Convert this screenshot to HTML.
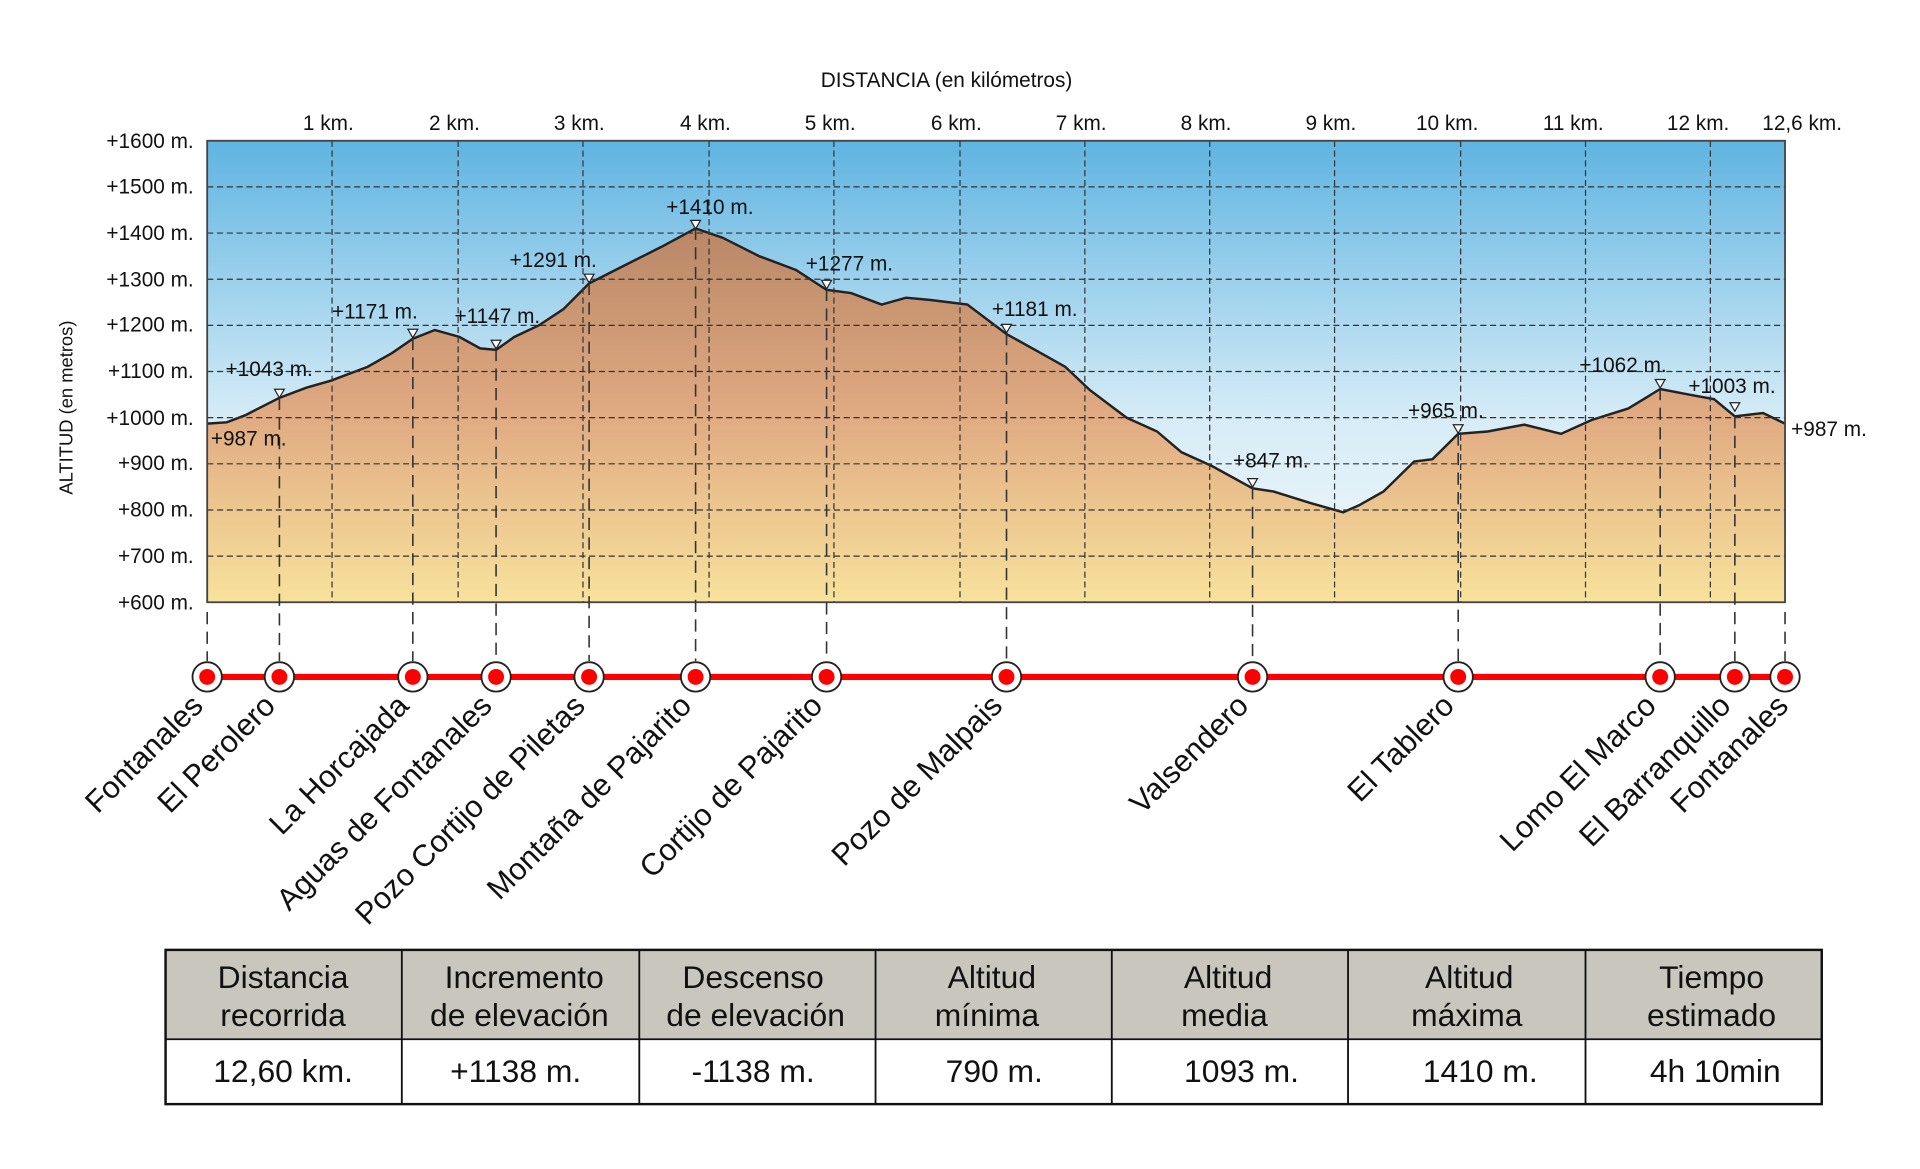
<!DOCTYPE html>
<html><head><meta charset="utf-8"><style>
html,body{margin:0;padding:0;background:#fff}
svg{display:block}
text{font-family:"Liberation Sans Narrow","Liberation Sans",sans-serif}
</style></head><body>
<svg width="1920" height="1169" viewBox="0 0 1568 955" xmlns="http://www.w3.org/2000/svg">
<defs>
<linearGradient id="sky" x1="0" y1="0" x2="0" y2="1">
<stop offset="0" stop-color="#5fb4e1"/><stop offset="0.6" stop-color="#d6ecf7"/><stop offset="1" stop-color="#f4f9fb"/>
</linearGradient>
<linearGradient id="ter" gradientUnits="userSpaceOnUse" x1="0" y1="186" x2="0" y2="492">
<stop offset="0" stop-color="#b98767"/><stop offset="0.5" stop-color="#e0aa82"/><stop offset="1" stop-color="#f8e29c"/>
</linearGradient>
</defs>
<rect x="169" y="115" width="1289" height="377" fill="url(#sky)"/>
<path d="M169,346.1 L185,345 L200,339.3 L228,325 L250,316.7 L270,311 L300,299.7 L320,288.4 L337,276.7 L355,269.6 L375,275.2 L392,284.6 L405,285.8 L420,275.2 L440,265.8 L460,252.6 L481,231.5 L510,216.8 L540,201.7 L568,186.6 L590,194.2 L620,209.3 L650,220.6 L675,236.8 L695,239.4 L720,248.8 L740,243.2 L760,245.1 L790,248.8 L822,272.9 L850,288.4 L870,299.7 L890,318.6 L920,341.2 L945,352.5 L965,369.5 L990,380.8 L1023,398.9 L1040,401.5 L1070,410.9 L1097,418.5 L1110,412.8 L1130,401.5 L1155,377 L1170,375.1 L1191,354.4 L1215,352.5 L1245,346.9 L1275,354.4 L1300,343.1 L1330,333.7 L1356,317.8 L1380,322.4 L1400,326.1 L1417,340.1 L1440,337.4 L1458,346.1 L1458,492 L169,492 Z" fill="url(#ter)"/>
<path d="M169,346.1 L185,345 L200,339.3 L228,325 L250,316.7 L270,311 L300,299.7 L320,288.4 L337,276.7 L355,269.6 L375,275.2 L392,284.6 L405,285.8 L420,275.2 L440,265.8 L460,252.6 L481,231.5 L510,216.8 L540,201.7 L568,186.6 L590,194.2 L620,209.3 L650,220.6 L675,236.8 L695,239.4 L720,248.8 L740,243.2 L760,245.1 L790,248.8 L822,272.9 L850,288.4 L870,299.7 L890,318.6 L920,341.2 L945,352.5 L965,369.5 L990,380.8 L1023,398.9 L1040,401.5 L1070,410.9 L1097,418.5 L1110,412.8 L1130,401.5 L1155,377 L1170,375.1 L1191,354.4 L1215,352.5 L1245,346.9 L1275,354.4 L1300,343.1 L1330,333.7 L1356,317.8 L1380,322.4 L1400,326.1 L1417,340.1 L1440,337.4 L1458,346.1" fill="none" stroke="#222" stroke-width="2"/>
<g stroke="#333" stroke-width="1" stroke-dasharray="5,3" fill="none">
<path d="M169,152.7H1458M169,190.4H1458M169,228.1H1458M169,265.8H1458M169,303.5H1458M169,341.2H1458M169,378.9H1458M169,416.6H1458M169,454.3H1458"/>
<path d="M271,115V492M374,115V492M476,115V492M579,115V492M681,115V492M784,115V492M886,115V492M988,115V492M1090,115V492M1193,115V492M1295,115V492M1397,115V492"/>
</g>
<rect x="169" y="115" width="1289" height="377" fill="none" stroke="#444" stroke-width="1.5"/>
<g stroke="#333" stroke-width="1.3" stroke-dasharray="10,6">
<path d="M169,500V540M228,325V540M337,276V540M405,285V540M481,231V540M568,186V540M675,236V540M822,272V540M1023,398V540M1191,354V540M1356,317V540M1417,340V540M1458,500V540"/>
</g>
<g fill="#fff" stroke="#222" stroke-width="1">
<path d="M224,318h8l-4,7z"/><path d="M333,269h8l-4,7z"/><path d="M401,278h8l-4,7z"/><path d="M477,224h8l-4,7z"/><path d="M564,180h8l-4,7z"/><path d="M671,229h8l-4,7z"/><path d="M818,265h8l-4,7z"/><path d="M1019,391h8l-4,7z"/><path d="M1187,347h8l-4,7z"/><path d="M1352,310h8l-4,7z"/><path d="M1413,329h8l-4,7z"/>
</g>
<g font-size="17" fill="#111">
<text x="172" y="364">+987 m.</text><text x="184" y="307">+1043 m.</text><text x="271" y="260">+1171 m.</text><text x="371" y="264">+1147 m.</text><text x="416" y="218">+1291 m.</text><text x="544" y="175">+1410 m.</text><text x="658" y="221">+1277 m.</text><text x="810" y="258">+1181 m.</text><text x="1007" y="382">+847 m.</text><text x="1150" y="341">+965 m.</text><text x="1290" y="304">+1062 m.</text><text x="1379" y="321">+1003 m.</text><text x="1463" y="356">+987 m.</text>
</g>
<g font-size="17" fill="#111" text-anchor="end">
<text x="158" y="121">+1600 m.</text><text x="158" y="158">+1500 m.</text><text x="158" y="196">+1400 m.</text><text x="158" y="234">+1300 m.</text><text x="158" y="271">+1200 m.</text><text x="158" y="309">+1100 m.</text><text x="158" y="347">+1000 m.</text><text x="158" y="384">+900 m.</text><text x="158" y="422">+800 m.</text><text x="158" y="460">+700 m.</text><text x="158" y="498">+600 m.</text>
</g>
<g font-size="17" fill="#111" text-anchor="middle">
<text x="268" y="106">1 km.</text><text x="371" y="106">2 km.</text><text x="473" y="106">3 km.</text><text x="576" y="106">4 km.</text><text x="678" y="106">5 km.</text><text x="781" y="106">6 km.</text><text x="883" y="106">7 km.</text><text x="985" y="106">8 km.</text><text x="1087" y="106">9 km.</text><text x="1182" y="106">10 km.</text><text x="1285" y="106">11 km.</text><text x="1387" y="106">12 km.</text><text x="1472" y="106">12,6 km.</text>
<text x="773" y="71">DISTANCIA (en kilómetros)</text>
<text transform="translate(59,333) rotate(-90)" font-size="15">ALTITUD (en metros)</text>
</g>
<line x1="169" y1="553" x2="1458" y2="553" stroke="#f00" stroke-width="5"/>
<g>
<g fill="#fff" stroke="#222" stroke-width="1.5">
<circle cx="169" cy="553" r="12"/><circle cx="228" cy="553" r="12"/><circle cx="337" cy="553" r="12"/><circle cx="405" cy="553" r="12"/><circle cx="481" cy="553" r="12"/><circle cx="568" cy="553" r="12"/><circle cx="675" cy="553" r="12"/><circle cx="822" cy="553" r="12"/><circle cx="1023" cy="553" r="12"/><circle cx="1191" cy="553" r="12"/><circle cx="1356" cy="553" r="12"/><circle cx="1417" cy="553" r="12"/><circle cx="1458" cy="553" r="12"/>
</g>
<g fill="#f00">
<circle cx="169" cy="553" r="6.5"/><circle cx="228" cy="553" r="6.5"/><circle cx="337" cy="553" r="6.5"/><circle cx="405" cy="553" r="6.5"/><circle cx="481" cy="553" r="6.5"/><circle cx="568" cy="553" r="6.5"/><circle cx="675" cy="553" r="6.5"/><circle cx="822" cy="553" r="6.5"/><circle cx="1023" cy="553" r="6.5"/><circle cx="1191" cy="553" r="6.5"/><circle cx="1356" cy="553" r="6.5"/><circle cx="1417" cy="553" r="6.5"/><circle cx="1458" cy="553" r="6.5"/>
</g>
</g>
<g font-size="25" fill="#111" text-anchor="end" font-family="Liberation Sans, sans-serif">
<text transform="translate(167,578) rotate(-45)">Fontanales</text>
<text transform="translate(226,578) rotate(-45)">El Perolero</text>
<text transform="translate(335,578) rotate(-45)">La Horcajada</text>
<text transform="translate(403,578) rotate(-45)">Aguas de Fontanales</text>
<text transform="translate(479,578) rotate(-45)">Pozo Cortijo de Piletas</text>
<text transform="translate(566,578) rotate(-45)">Montaña de Pajarito</text>
<text transform="translate(673,578) rotate(-45)">Cortijo de Pajarito</text>
<text transform="translate(820,578) rotate(-45)">Pozo de Malpais</text>
<text transform="translate(1021,578) rotate(-45)">Valsendero</text>
<text transform="translate(1189,578) rotate(-45)">El Tablero</text>
<text transform="translate(1354,578) rotate(-45)">Lomo El Marco</text>
<text transform="translate(1415,578) rotate(-45)">El Barranquillo</text>
<text transform="translate(1462,578) rotate(-45)">Fontanales</text>
</g>
<rect x="135" y="776" width="1353" height="73" fill="#c8c6bd"/>
<rect x="135" y="776" width="1353" height="126" fill="none" stroke="#111" stroke-width="2"/>
<g stroke="#111" stroke-width="1.5">
<line x1="135" y1="849" x2="1488" y2="849"/>
<line x1="328" y1="776" x2="328" y2="902"/><line x1="522" y1="776" x2="522" y2="902"/><line x1="715" y1="776" x2="715" y2="902"/><line x1="908" y1="776" x2="908" y2="902"/><line x1="1101" y1="776" x2="1101" y2="902"/><line x1="1295" y1="776" x2="1295" y2="902"/>
</g>
<g font-size="26" fill="#111" text-anchor="middle" font-family="Liberation Sans, sans-serif">
<text x="231" y="807">Distancia</text><text x="231" y="838">recorrida</text>
<text x="428" y="807">Incremento</text><text x="424" y="838">de elevación</text>
<text x="615" y="807">Descenso</text><text x="617" y="838">de elevación</text>
<text x="810" y="807">Altitud</text><text x="806" y="838">mínima</text>
<text x="1003" y="807">Altitud</text><text x="1000" y="838">media</text>
<text x="1200" y="807">Altitud</text><text x="1198" y="838">máxima</text>
<text x="1398" y="807">Tiempo</text><text x="1398" y="838">estimado</text>
<text x="231" y="884">12,60 km.</text><text x="421" y="884">+1138 m.</text><text x="615" y="884">-1138 m.</text><text x="812" y="884">790 m.</text><text x="1014" y="884">1093 m.</text><text x="1209" y="884">1410 m.</text><text x="1401" y="884">4h 10min</text>
</g>
</svg>
</body></html>
